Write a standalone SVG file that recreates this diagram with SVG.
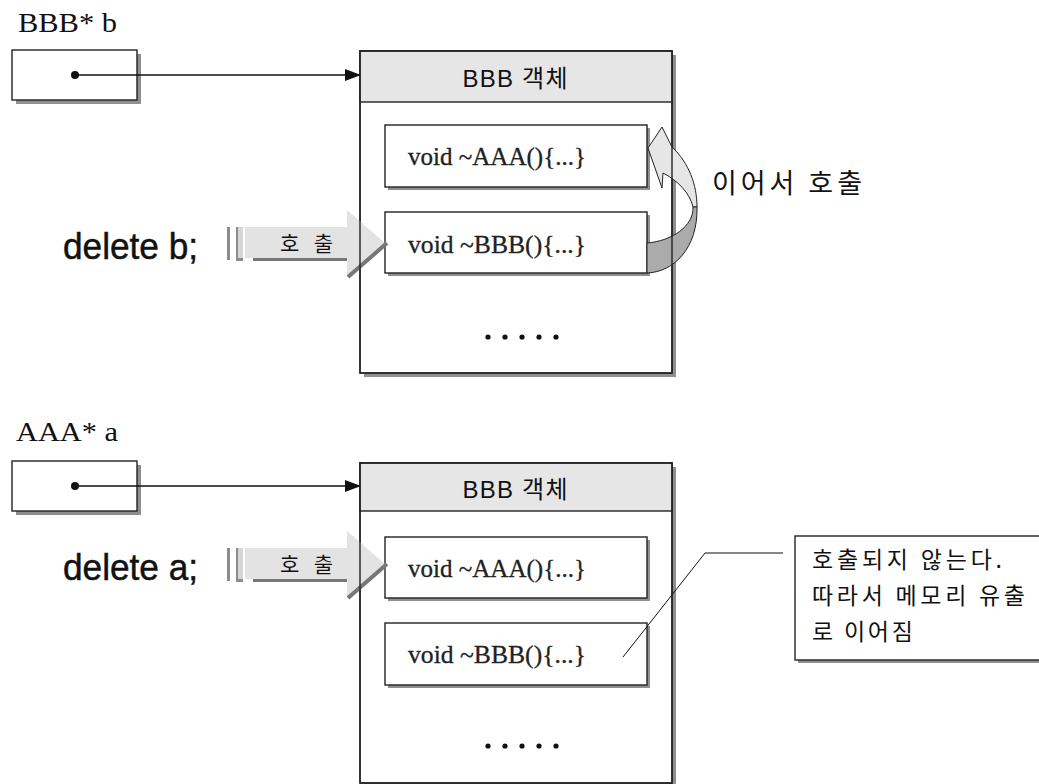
<svg xmlns="http://www.w3.org/2000/svg" width="1039" height="784" viewBox="0 0 1039 784">
<defs>
<style>
.bg{fill:#fff}
.box{fill:#fff;stroke:#222;stroke-width:1.4}
.sh{fill:#8f8f8f}
.hdr{fill:#e6e6e6;stroke:#222;stroke-width:1.4}
.outline{fill:none;stroke:#222;stroke-width:1.4}
.code{font-family:"Liberation Serif",serif;font-size:25px;fill:#222;stroke:#222;stroke-width:0.3}
.var{font-family:"Liberation Serif",serif;font-size:28px;fill:#111}
.title{font-family:"Liberation Sans","Noto Sans CJK KR",sans-serif;font-size:24px;fill:#111}
.del{font-family:"Liberation Sans",sans-serif;font-size:37px;fill:#111;stroke:#111;stroke-width:0.5}
.ko{font-family:"Noto Sans CJK KR",sans-serif;fill:#111}
.link{stroke:#111;stroke-width:1.3;fill:none}
.lead{stroke:#111;stroke-width:1;fill:none}
.callbody{fill:#e3e3e3}
.callsh{stroke:#777;fill:none}
.dot{fill:#111}
</style>
<marker id="tri" markerWidth="16" markerHeight="12" refX="15" refY="6" orient="auto" markerUnits="userSpaceOnUse">
<path d="M0,0 L16,6 L0,12 Z" fill="#111"/>
</marker>
</defs>
<rect class="bg" x="0" y="0" width="1039" height="784"/>

<!-- pointer b -->
<g id="ptr-b">
<text class="var" x="18" y="32" textLength="99" lengthAdjust="spacingAndGlyphs">BBB* b</text>
<rect class="sh" x="16" y="54" width="125" height="50"/>
<rect class="box" x="12" y="50" width="125" height="50"/>
<circle class="dot" cx="75" cy="75" r="4"/>
</g>

<!-- object BBB top -->
<g id="obj-b">
<rect class="sh" x="364" y="55" width="312" height="322"/>
<rect class="box" x="360" y="51" width="312" height="322"/>
<rect class="hdr" x="360" y="51" width="312" height="51"/>
<text class="title" x="515" y="87" text-anchor="middle" textLength="105" lengthAdjust="spacing">BBB 객체</text>
<g id="obj-b-dtorA">
<rect class="sh" x="388" y="128" width="262" height="62"/>
<rect class="box" x="385" y="125" width="262" height="62"/>
<text class="code" x="408" y="165" textLength="178" lengthAdjust="spacingAndGlyphs">void ~AAA(){...}</text>
</g>
<g id="obj-b-dtorB">
<rect class="sh" x="388" y="215" width="262" height="61"/>
<rect class="box" x="385" y="212" width="262" height="61"/>
<text class="code" x="408" y="253" textLength="178" lengthAdjust="spacingAndGlyphs">void ~BBB(){...}</text>
</g>
<g id="obj-b-dots">
<circle class="dot" cx="488" cy="337" r="2.6"/><circle class="dot" cx="505" cy="337" r="2.6"/><circle class="dot" cx="522" cy="337" r="2.6"/><circle class="dot" cx="539" cy="337" r="2.6"/><circle class="dot" cx="556" cy="337" r="2.6"/>
</g>
</g>

<!-- pointer a -->
<g id="ptr-a">
<text class="var" x="16" y="441" textLength="102" lengthAdjust="spacingAndGlyphs">AAA* a</text>
<rect class="sh" x="16" y="465" width="125" height="50"/>
<rect class="box" x="12" y="461" width="125" height="50"/>
<circle class="dot" cx="75" cy="486" r="4"/>
</g>

<!-- object BBB bottom -->
<g id="obj-a">
<rect class="sh" x="364" y="467" width="312" height="320"/>
<rect class="box" x="360" y="463" width="312" height="320"/>
<rect class="hdr" x="360" y="463" width="312" height="48"/>
<text class="title" x="515" y="498" text-anchor="middle" textLength="105" lengthAdjust="spacing">BBB 객체</text>
<g id="obj-a-dtorA">
<rect class="sh" x="388" y="540" width="262" height="61"/>
<rect class="box" x="385" y="537" width="262" height="61"/>
<text class="code" x="408" y="577" textLength="178" lengthAdjust="spacingAndGlyphs">void ~AAA(){...}</text>
</g>
<g id="obj-a-dtorB">
<rect class="sh" x="388" y="626" width="262" height="62"/>
<rect class="box" x="385" y="623" width="262" height="62"/>
<text class="code" x="408" y="663" textLength="178" lengthAdjust="spacingAndGlyphs">void ~BBB(){...}</text>
</g>
<g id="obj-a-dots">
<circle class="dot" cx="488" cy="746" r="2.6"/><circle class="dot" cx="505" cy="746" r="2.6"/><circle class="dot" cx="522" cy="746" r="2.6"/><circle class="dot" cx="539" cy="746" r="2.6"/><circle class="dot" cx="556" cy="746" r="2.6"/>
</g>
</g>

<!-- delete labels -->
<g id="del-b"><text class="del" x="63" y="259" textLength="135" lengthAdjust="spacingAndGlyphs">delete b;</text></g>
<g id="del-a"><text class="del" x="63" y="580" textLength="135" lengthAdjust="spacingAndGlyphs">delete a;</text></g>

<!-- callout -->
<g id="callout">
<rect class="sh" x="798" y="539" width="250" height="124"/>
<rect class="box" x="795" y="536" width="250" height="124"/>
<text class="ko" font-size="23" x="812" y="568" textLength="190" lengthAdjust="spacing">호출되지 않는다.</text>
<text class="ko" font-size="23" x="812" y="604" textLength="213" lengthAdjust="spacing">따라서 메모리 유출</text>
<text class="ko" font-size="23" x="812" y="640" textLength="101" lengthAdjust="spacing">로 이어짐</text>
</g>

<g id="label-next">
<text class="ko" font-size="27" x="712" y="193" textLength="150" lengthAdjust="spacing">이어서 호출</text>
</g>

<!-- connectors -->
<g id="connectors">
<line class="link" x1="75" y1="75" x2="360" y2="75" marker-end="url(#tri)"/>
<line class="link" x1="75" y1="486" x2="360" y2="486" marker-end="url(#tri)"/>
<polyline class="lead" points="783,553 705,553 623,657"/>

<!-- call arrow top -->
<g id="call-b">
<rect x="227" y="227" width="3" height="33" fill="#8c8c8c"/>
<rect x="236" y="227" width="7" height="33" fill="#d6d6d6"/>
<rect x="236" y="227" width="2" height="33" fill="#8c8c8c"/>
<rect x="236" y="258" width="7" height="3" fill="#8c8c8c"/>
<path class="callbody" d="M245,227 L347,227 L347,210 L385,243 L347,277 L347,258 L245,258 Z"/>
<path class="callsh" stroke-width="3" d="M253,259.5 L347,259.5"/>
<path class="callsh" stroke-width="4" d="M348,277 L387,243"/>
<text class="ko" font-size="21" x="280" y="251" textLength="53" lengthAdjust="spacing">호 출</text>
</g>
<!-- call arrow bottom -->
<g id="call-a">
<rect x="227" y="548" width="3" height="33" fill="#8c8c8c"/>
<rect x="236" y="548" width="7" height="33" fill="#d6d6d6"/>
<rect x="236" y="548" width="2" height="33" fill="#8c8c8c"/>
<rect x="236" y="579" width="7" height="3" fill="#8c8c8c"/>
<path class="callbody" d="M245,548 L347,548 L347,531 L385,564 L347,598 L347,579 L245,579 Z"/>
<path class="callsh" stroke-width="3" d="M253,580.5 L347,580.5"/>
<path class="callsh" stroke-width="4" d="M348,598 L387,564"/>
<text class="ko" font-size="21" x="280" y="572" textLength="53" lengthAdjust="spacing">호 출</text>
</g>

<!-- curved chain arrow -->
<g id="chain">
<path d="M697,207 C697,185 689,163 672,147 L662,127 L648,148 L662,188 L663,173 C677,180 690,193 693,207 Z" fill="#e6e6e6" stroke="#222" stroke-width="1"/>
<path d="M693,207 C694,226 672,241 647,243 L647,273 C674,272 698,248 697,207 Z" fill="#ababab" stroke="#222" stroke-width="1"/>
</g>

<!-- outer box edges drawn over arrows -->
<rect class="outline" x="360" y="51" width="312" height="322"/>
<rect class="outline" x="360" y="463" width="312" height="320"/>
</g>
</svg>
